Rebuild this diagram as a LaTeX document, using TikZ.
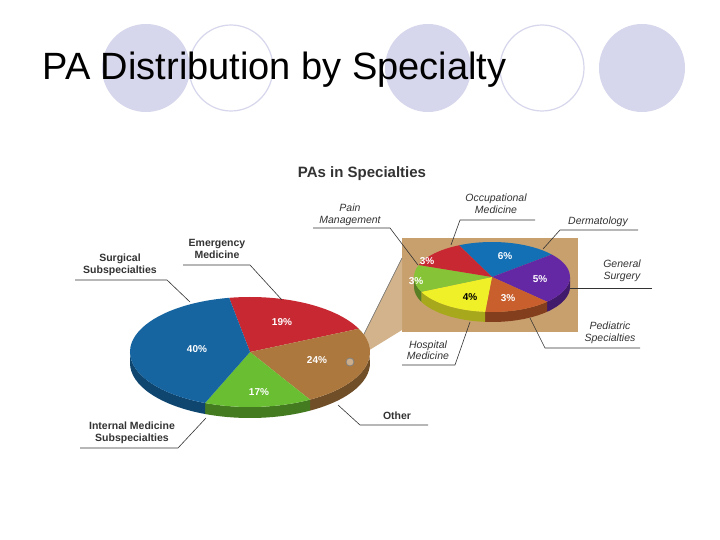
\documentclass[tikz,border=0pt]{standalone}
\usepackage{fontspec}
\setmainfont{Liberation Sans}
\begin{document}
\begin{tikzpicture}[x=1pt,y=1pt,
  lav/.style={fill={rgb,255:red,214;green,214;blue,236}},
  lavo/.style={draw={rgb,255:red,214;green,214;blue,236},line width=1.2pt},
  blab/.style={font=\fontsize{10.5}{11.5}\selectfont\bfseries,align=center,text=black!80},
  ilab/.style={font=\fontsize{10.5}{11.5}\selectfont\itshape,align=center,text=black!80},
  pct/.style={font=\fontsize{10}{10}\selectfont\bfseries,text=white},
  pl/.style={draw=black!80,line width=0.6pt}]
\definecolor{pblue}{RGB}{22,100,160}
\definecolor{pred}{RGB}{200,40,50}
\definecolor{pbrown}{RGB}{172,120,62}
\definecolor{pgreen}{RGB}{105,190,50}
\definecolor{sblue}{RGB}{20,112,180}
\definecolor{spurple}{RGB}{100,40,165}
\definecolor{sorange}{RGB}{200,95,45}
\definecolor{syellow}{RGB}{240,240,40}
\definecolor{sgreen}{RGB}{135,195,55}
\definecolor{tan}{RGB}{200,160,110}
\useasboundingbox (0,0) rectangle (720,-540);
\fill[white] (0,0) rectangle (720,-540);
% circles
\fill[lav] (146,-68) ellipse (44 and 44);
\fill[lav] (428,-68) ellipse (43 and 44);
\fill[lav] (642,-68) ellipse (43 and 44);
\draw[lavo] (231,-68) ellipse (42 and 43);
\draw[lavo] (542,-68) ellipse (42 and 43);
\node[anchor=west,font=\fontsize{38}{38}\selectfont] (title) at (39,-70) {PA Distribution by Specialty};
\node[font=\fontsize{15}{15}\selectfont\bfseries,text=black!80] (head) at (362,-174) {PAs in Specialties};
% inset background and wedge
\fill[tan] (402,-238) rectangle (578,-332);
\fill[tan!80] (350,-362) -- (402,-258) -- (402,-330) -- cycle;
\draw[black!60,line width=0.6pt] (350,-362) -- (402,-258);
\newcommand\side[8]{\fill[#8] ([shift={(#1,#2)}]#5:#3 and #4) arc[start angle=#5,end angle=#6,x radius=#3,y radius=#4] -- ++(0,-#7) arc[start angle=#6,end angle=#5,x radius=#3,y radius=#4] -- cycle;}
\newcommand\slc[7]{\fill[#7] (#1,#2) -- ([shift={(#1,#2)}]#5:#3 and #4) arc[start angle=#5,end angle=#6,x radius=#3,y radius=#4] -- cycle;}
\side{250}{-352}{120}{55}{5}{-60}{11}{pbrown!65!black}
\side{250}{-352}{120}{55}{-60}{-112}{11}{pgreen!65!black}
\side{250}{-352}{120}{55}{-112}{-180}{11}{pblue!70!black}
\slc{250}{-352}{120}{55}{100}{25}{pred}
\slc{250}{-352}{120}{55}{25}{-60}{pbrown}
\slc{250}{-352}{120}{55}{-60}{-112}{pgreen}
\slc{250}{-352}{120}{55}{-112}{-260}{pblue}
\draw[black!50,fill=pbrown!60!white,line width=0.8pt] (350,-362) circle (4);
% small pie
\side{492}{-277}{78}{35}{0}{-45}{10}{spurple!65!black}
\side{492}{-277}{78}{35}{-45}{-95}{10}{sorange!65!black}
\side{492}{-277}{78}{35}{-95}{-155}{10}{syellow!70!black}
\side{492}{-277}{78}{35}{-155}{-180}{10}{sgreen!65!black}
\slc{492}{-277}{78}{35}{115}{40}{sblue}
\slc{492}{-277}{78}{35}{40}{-45}{spurple}
\slc{492}{-277}{78}{35}{-45}{-95}{sorange}
\slc{492}{-277}{78}{35}{-95}{-155}{syellow}
\slc{492}{-277}{78}{35}{-155}{-200}{sgreen}
\slc{492}{-277}{78}{35}{160}{115}{pred}
% percentages
\node[pct] (p40) at (197,-349) {40\%};
\node[pct] (p19) at (282,-322) {19\%};
\node[pct] (p24) at (317,-360) {24\%};
\node[pct] (p17) at (259,-392) {17\%};
\node[pct] (s3a) at (427,-261) {3\%};
\node[pct] (s6) at (505,-256) {6\%};
\node[pct] (s5) at (540,-279) {5\%};
\node[pct] (s3b) at (416,-281) {3\%};
\node[pct,text=black] (s4) at (470,-297) {4\%};
\node[pct] (s3c) at (508,-298) {3\%};
% labels
\node[blab] (em) at (217,-249) {Emergency\\Medicine};
\node[blab] (su) at (120,-265) {Surgical\\Subspecialties};
\node[blab] (im) at (132,-433) {Internal Medicine\\Subspecialties};
\node[blab] (ot) at (397,-416) {Other};
\node[ilab] (pm) at (350,-215) {Pain\\Management};
\node[ilab] (om) at (496,-204) {Occupational\\Medicine};
\node[ilab] (de) at (598,-222) {Dermatology};
\node[ilab] (gs) at (622,-271) {General\\Surgery};
\node[ilab] (ps) at (610,-333) {Pediatric\\Specialties};
\node[ilab] (hm) at (428,-350) {Hospital\\Medicine};
% connectors
\coordinate (em1) at (183,-265); \coordinate (em2) at (250,-265); \coordinate (em3) at (282,-300);
\draw[pl] (em1) -- (em2) -- (em3);
\coordinate (su1) at (75,-280); \coordinate (su2) at (167,-280); \coordinate (su3) at (190,-302);
\draw[pl] (su1) -- (su2) -- (su3);
\coordinate (im1) at (80,-448); \coordinate (im2) at (178,-448); \coordinate (im3) at (206,-418);
\draw[pl] (im1) -- (im2) -- (im3);
\coordinate (ot1) at (428,-425); \coordinate (ot2) at (360,-425); \coordinate (ot3) at (338,-405);
\draw[pl] (ot1) -- (ot2) -- (ot3);
\coordinate (pm1) at (313,-228); \coordinate (pm2) at (390,-228); \coordinate (pm3) at (418,-265);
\draw[pl] (pm1) -- (pm2) -- (pm3);
\coordinate (om1) at (535,-220); \coordinate (om2) at (460,-220); \coordinate (om3) at (451,-245);
\draw[pl] (om1) -- (om2) -- (om3);
\coordinate (de1) at (638,-230); \coordinate (de2) at (560,-230); \coordinate (de3) at (543,-249);
\draw[pl] (de1) -- (de2) -- (de3);
\coordinate (gs1) at (652,-288); \coordinate (gs2) at (570,-288);
\draw[pl] (gs1) -- (gs2);
\coordinate (ps1) at (640,-348); \coordinate (ps2) at (545,-348); \coordinate (ps3) at (530,-318);
\draw[pl] (ps1) -- (ps2) -- (ps3);
\coordinate (hm1) at (402,-365); \coordinate (hm2) at (455,-365); \coordinate (hm3) at (470,-322);
\draw[pl] (hm1) -- (hm2) -- (hm3);
\end{tikzpicture}
\end{document}
